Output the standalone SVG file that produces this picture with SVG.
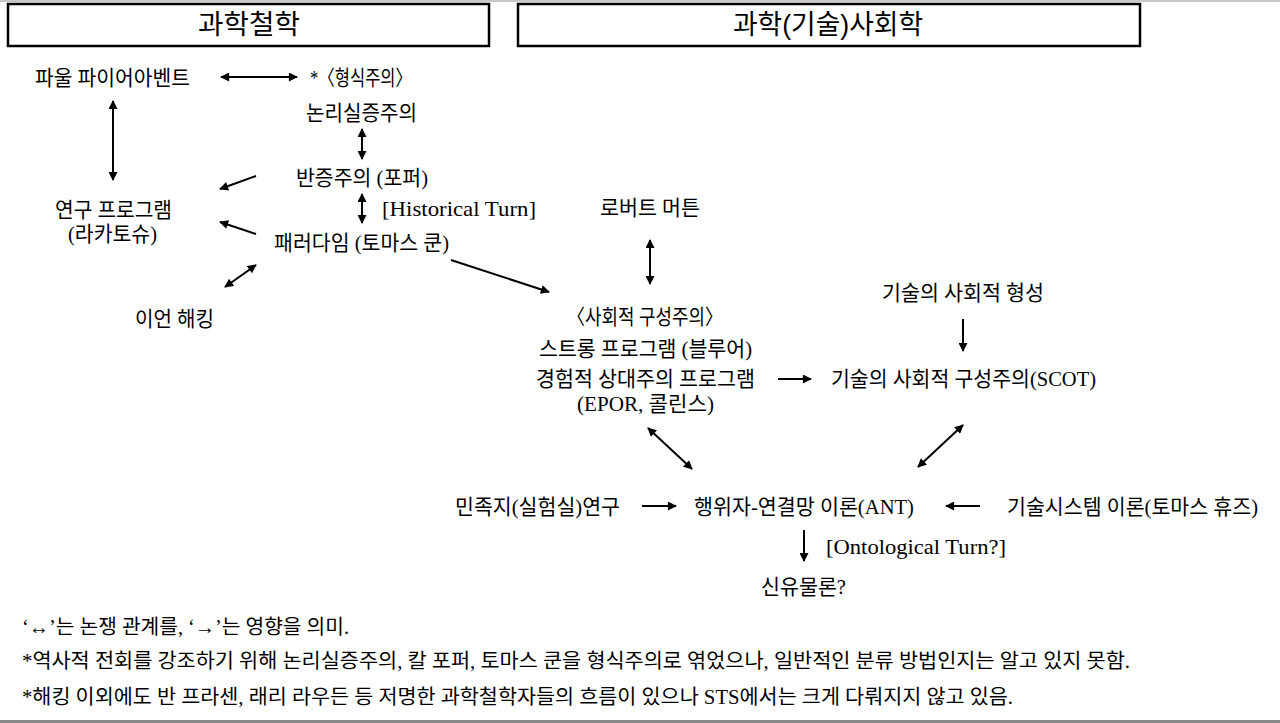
<svg xmlns="http://www.w3.org/2000/svg" width="1280" height="723" viewBox="0 0 1280 723">
<style>
.t{font-family:"Liberation Serif","Noto Sans CJK KR",serif;font-size:21px;fill:#000}
.h{font-family:"Liberation Sans","Noto Sans CJK KR",sans-serif;font-size:27px;fill:#000}
.f{font-family:"Liberation Serif","Noto Sans CJK KR",serif;font-size:20px;fill:#000}
.m{text-anchor:middle}
.box{fill:#fff;stroke:#000;stroke-width:2.5}
#connectors line{stroke:#000;stroke-width:2;fill:none}
</style>
<defs>
<marker id="ah" viewBox="0 0 10 10" refX="9" refY="5" markerWidth="10" markerHeight="9" markerUnits="userSpaceOnUse" orient="auto-start-reverse">
<path d="M0,0 L10,5 L0,10 z" fill="#000"/>
</marker>
</defs>
<rect x="0" y="0" width="1280" height="723" fill="#fff"/>
<rect x="0" y="0" width="1280" height="2" fill="#c8c8c8"/>
<rect x="0" y="720" width="1280" height="3" fill="#8a8a8a"/>

<g id="header-philosophy"><rect class="box" x="8" y="4" width="481" height="42"/><text class="h m" x="249" y="34" textLength="102" lengthAdjust="spacingAndGlyphs">과학철학</text></g>
<g id="header-sociology"><rect class="box" x="518" y="4" width="622" height="42"/><text class="h m" x="828" y="34" textLength="190" lengthAdjust="spacingAndGlyphs">과학(기술)사회학</text></g>

<g id="connectors">
<line x1="221" y1="77" x2="297" y2="77" marker-start="url(#ah)" marker-end="url(#ah)"/>
<line x1="113" y1="101" x2="113" y2="180" marker-start="url(#ah)" marker-end="url(#ah)"/>
<line x1="362" y1="129" x2="362" y2="159" marker-start="url(#ah)" marker-end="url(#ah)"/>
<line x1="362" y1="194" x2="362" y2="223" marker-start="url(#ah)" marker-end="url(#ah)"/>
<line x1="256" y1="176" x2="220" y2="189" marker-end="url(#ah)"/>
<line x1="256" y1="234" x2="220" y2="222" marker-end="url(#ah)"/>
<line x1="225" y1="287" x2="256" y2="265" marker-start="url(#ah)" marker-end="url(#ah)"/>
<line x1="451" y1="260" x2="549" y2="292" marker-end="url(#ah)"/>
<line x1="650" y1="240" x2="650" y2="284" marker-start="url(#ah)" marker-end="url(#ah)"/>
<line x1="963" y1="319" x2="963" y2="351" marker-end="url(#ah)"/>
<line x1="778" y1="379" x2="811" y2="379" marker-end="url(#ah)"/>
<line x1="648" y1="428" x2="692" y2="469" marker-start="url(#ah)" marker-end="url(#ah)"/>
<line x1="963" y1="425" x2="918" y2="467" marker-start="url(#ah)" marker-end="url(#ah)"/>
<line x1="642" y1="506" x2="676" y2="506" marker-end="url(#ah)"/>
<line x1="980" y1="506" x2="946" y2="506" marker-end="url(#ah)"/>
<line x1="804" y1="530" x2="804" y2="561" marker-end="url(#ah)"/>
</g>

<g id="feyerabend"><text class="t m" x="112.5" y="85" textLength="155" lengthAdjust="spacingAndGlyphs">파울 파이어아벤트</text></g>
<g id="formalism"><text class="t m" x="361" y="85" textLength="102" lengthAdjust="spacingAndGlyphs">*〈형식주의〉</text></g>
<g id="logical-positivism"><text class="t m" x="361.5" y="120" textLength="111" lengthAdjust="spacingAndGlyphs">논리실증주의</text></g>
<g id="falsificationism"><text class="t m" x="362" y="185" textLength="132" lengthAdjust="spacingAndGlyphs">반증주의 (포퍼)</text></g>
<g id="historical-turn"><text class="t" x="382" y="216" textLength="154" lengthAdjust="spacingAndGlyphs">[Historical Turn]</text></g>
<g id="paradigm"><text class="t m" x="361.5" y="250" textLength="175" lengthAdjust="spacingAndGlyphs">패러다임 (토마스 쿤)</text></g>
<g id="research-programme"><text class="t m" x="113.5" y="217" textLength="117" lengthAdjust="spacingAndGlyphs">연구 프로그램</text><text class="t m" x="112.5" y="241" textLength="89" lengthAdjust="spacingAndGlyphs">(라카토슈)</text></g>
<g id="hacking"><text class="t m" x="174.5" y="326" textLength="79" lengthAdjust="spacingAndGlyphs">이언 해킹</text></g>
<g id="merton"><text class="t m" x="650" y="215" textLength="100" lengthAdjust="spacingAndGlyphs">로버트 머튼</text></g>
<g id="social-constructivism">
<text class="t m" x="645" y="324" textLength="156" lengthAdjust="spacingAndGlyphs">〈사회적 구성주의〉</text>
<text class="t m" x="645.5" y="356" textLength="213" lengthAdjust="spacingAndGlyphs">스트롱 프로그램 (블루어)</text>
<text class="t m" x="645.5" y="386" textLength="219" lengthAdjust="spacingAndGlyphs">경험적 상대주의 프로그램</text>
<text class="t m" x="645.5" y="411" textLength="137" lengthAdjust="spacingAndGlyphs">(EPOR, 콜린스)</text>
</g>
<g id="shaping"><text class="t m" x="963" y="300" textLength="162" lengthAdjust="spacingAndGlyphs">기술의 사회적 형성</text></g>
<g id="scot"><text class="t m" x="963.5" y="386" textLength="265" lengthAdjust="spacingAndGlyphs">기술의 사회적 구성주의(SCOT)</text></g>
<g id="ethnography"><text class="t m" x="537.5" y="514" textLength="165" lengthAdjust="spacingAndGlyphs">민족지(실험실)연구</text></g>
<g id="ant"><text class="t m" x="804" y="514" textLength="220" lengthAdjust="spacingAndGlyphs">행위자-연결망 이론(ANT)</text></g>
<g id="hughes"><text class="t m" x="1132.5" y="514" textLength="251" lengthAdjust="spacingAndGlyphs">기술시스템 이론(토마스 휴즈)</text></g>
<g id="ontological-turn"><text class="t" x="826" y="554" textLength="180" lengthAdjust="spacingAndGlyphs">[Ontological Turn?]</text></g>
<g id="new-materialism"><text class="t m" x="803.5" y="594" textLength="85" lengthAdjust="spacingAndGlyphs">신유물론?</text></g>

<g id="notes">
<text class="f" x="22" y="634" textLength="327" lengthAdjust="spacingAndGlyphs">‘↔’는 논쟁 관계를, ‘→’는 영향을 의미.</text>
<text class="f" x="22" y="668" textLength="1108" lengthAdjust="spacingAndGlyphs">*역사적 전회를 강조하기 위해 논리실증주의, 칼 포퍼, 토마스 쿤을 형식주의로 엮었으나, 일반적인 분류 방법인지는 알고 있지 못함.</text>
<text class="f" x="22" y="704" textLength="991" lengthAdjust="spacingAndGlyphs">*해킹 이외에도 반 프라센, 래리 라우든 등 저명한 과학철학자들의 흐름이 있으나 STS에서는 크게 다뤄지지 않고 있음.</text>
</g>
</svg>
